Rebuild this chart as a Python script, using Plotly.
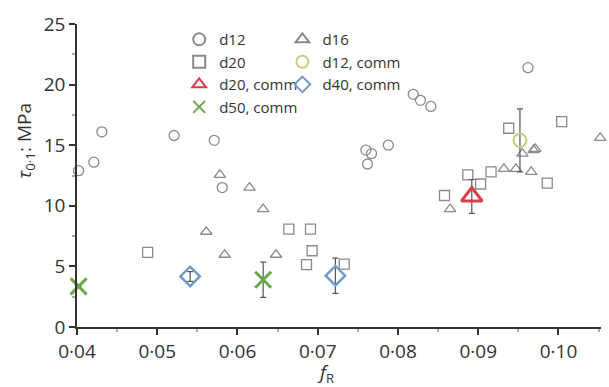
import plotly.graph_objects as go

# ---- data ----
d12_x = [0.0402, 0.0421, 0.0431, 0.0521, 0.0571, 0.0581, 0.0760, 0.0762, 0.0767, 0.0788,
         0.0819, 0.0828, 0.0841, 0.0962]
d12_y = [12.9, 13.6, 16.1, 15.8, 15.4, 11.5, 14.6, 13.45, 14.3, 15.0,
         19.2, 18.7, 18.2, 21.4]

d16_x = [0.0561, 0.0578, 0.0584, 0.0615, 0.0632, 0.0648, 0.0865, 0.0932, 0.0947, 0.0966,
         0.0955, 0.0969, 0.0971, 0.1052]
d16_y = [7.86, 12.55, 5.96, 11.5, 9.73, 5.96, 9.73, 13.05, 13.05, 12.8,
         14.3, 14.6, 14.7, 15.6]

d20_x = [0.0488, 0.0664, 0.0691, 0.0693, 0.0686, 0.0733, 0.0858, 0.0887, 0.0903, 0.0916,
         0.0938, 0.0986, 0.1004]
d20_y = [6.15, 8.08, 8.08, 6.29, 5.14, 5.19, 10.85, 12.55, 11.8, 12.8,
         16.4, 11.87, 16.95]

d12c_x = [0.0952]
d12c_y = [15.4]
d12c_err = [2.6]

d20c_x = [0.0892]
d20c_y = [10.77]
d20c_err = [1.4]

d40c_x = [0.0541, 0.0722]
d40c_y = [4.17, 4.23]
d40c_err = [0.4, 1.45]

d50c_x = [0.0402, 0.0632]
d50c_y = [3.35, 3.9]
d50c_err = [None, 1.45]

x_tickvals = [0.04, 0.05, 0.06, 0.07, 0.08, 0.09, 0.10]
x_ticktext = ["0·04", "0·05", "0·06", "0·07", "0·08", "0·09", "0·10"]
y_tickvals = [0, 5, 10, 15, 20, 25]

GRAY = "#8a8a8a"
ERR = dict(type="data", thickness=1.2, width=3, color="#555555")

fig = go.Figure()

def add(name, x, y, symbol, color, size, lw, legend, err=None):
    kw = {}
    if err is not None:
        kw["error_y"] = dict(array=err, visible=True, **ERR)
    fig.add_trace(go.Scatter(
        x=x, y=y, mode="markers", name=name, legend=legend,
        marker=dict(symbol=symbol, size=size, color=color,
                    line=dict(color=color, width=lw)),
        cliponaxis=False, **kw))

add("d12", d12_x, d12_y, "circle-open", GRAY, 10, 1.3, "legend")
add("d20", d20_x, d20_y, "square-open", GRAY, 10, 1.3, "legend")
add("d16", d16_x, d16_y, "triangle-up-open", GRAY, 10, 1.3, "legend2")
add("d12, comm", d12c_x, d12c_y, "circle-open", "#c5cc7e", 13, 2, "legend2", d12c_err)
add("d20, comm", d20c_x, d20c_y, "triangle-up-open", "#d6404a", 18, 3, "legend", d20c_err)
add("d40, comm", d40c_x, d40c_y, "diamond-open", "#6f9bc9", 15, 2.5, "legend2", d40c_err)
add("d50, comm", d50c_x, d50c_y, "x-thin-open", "#6aa84f", 16, 3, "legend", d50c_err)

axis_common = dict(showline=True, linecolor="#333333", linewidth=1.5,
                   ticks="outside", ticklen=6, tickcolor="#333333", tickwidth=1.5,
                   showgrid=False, zeroline=False,
                   tickfont=dict(family="Open Sans", size=19, color="#333333"))

fig.update_xaxes(range=[0.04, 0.1053], tickvals=x_tickvals, ticktext=x_ticktext,
                 minor=dict(dtick=0.005, tick0=0.04, ticks="outside", ticklen=3,
                            tickcolor="#aaaaaa"),
                 **axis_common)
fig.update_yaxes(range=[0, 25], tickvals=y_tickvals,
                 minor=dict(dtick=2.5, tick0=0, ticks="outside", ticklen=3,
                            tickcolor="#aaaaaa"),
                 **axis_common)

legend_common = dict(font=dict(family="Open Sans", size=15, color="#333333"),
                     bgcolor="rgba(0,0,0,0)", itemsizing="constant",
                     yanchor="top", xanchor="left", tracegroupgap=0)

fig.update_layout(
    width=609, height=387,
    margin=dict(l=77, r=8, t=24, b=60),
    plot_bgcolor="white", paper_bgcolor="white",
    font=dict(family="Open Sans", color="#333333"),
    legend=dict(x=0.195, y=1.003, **legend_common),
    legend2=dict(x=0.392, y=1.003, **legend_common),
    annotations=[
        dict(text="<i>τ</i><sub>0·1</sub>: MPa", xref="paper", yref="paper",
             x=-0.099, y=0.615, xanchor="center", yanchor="middle",
             textangle=-90, showarrow=False,
             font=dict(family="Open Sans", size=19, color="#333333")),
        dict(text="<i>f</i><sub><span style='font-size:13px'>R</span></sub>",
             xref="paper", yref="paper",
             x=0.475, y=-0.1, xanchor="center", yanchor="top", showarrow=False,
             font=dict(family="Open Sans", size=19, color="#333333")),
    ],
)

fig.write_html("out.html", config={"displayModeBar": False},
               post_script="document.body.style.margin='0';")
